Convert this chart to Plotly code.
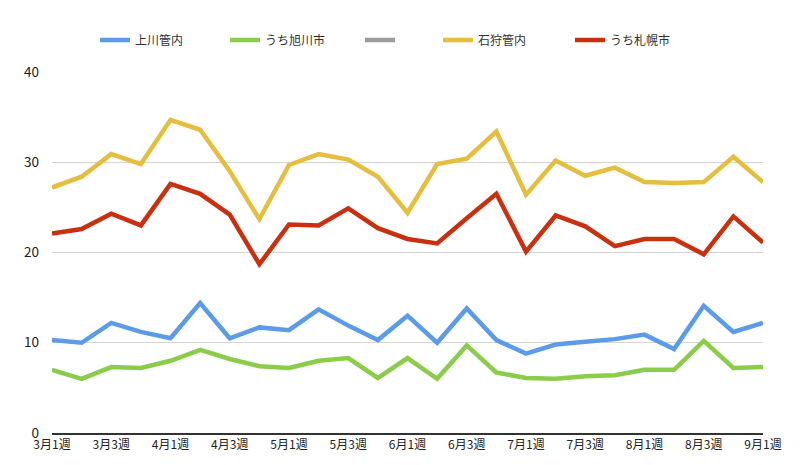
import plotly.graph_objects as go

## weekly categories, 3月1週 .. 9月1週
weeks = [f"{m}月{w}週" for m in range(3, 9) for w in range(1, 5)] + ["9月1週"]
tick_labels = weeks[::2]

kamikawa = [10.3, 10.0, 12.2, 11.2, 10.5, 14.4, 10.5, 11.7, 11.4, 13.7, 11.9, 10.3, 13.0,
            10.0, 13.8, 10.3, 8.8, 9.8, 10.1, 10.4, 10.9, 9.3, 14.1, 11.2, 12.2]
asahikawa = [7.0, 6.0, 7.3, 7.2, 8.0, 9.2, 8.2, 7.4, 7.2, 8.0, 8.3, 6.1, 8.3,
             6.0, 9.7, 6.7, 6.1, 6.0, 6.3, 6.4, 7.0, 7.0, 10.2, 7.2, 7.3]
ishikari = [27.2, 28.4, 30.9, 29.8, 34.7, 33.6, 29.0, 23.7, 29.7, 30.9, 30.3, 28.4, 24.4,
            29.8, 30.4, 33.4, 26.4, 30.2, 28.5, 29.4, 27.8, 27.7, 27.8, 30.6, 27.8]
sapporo = [22.1, 22.6, 24.3, 23.0, 27.6, 26.5, 24.2, 18.7, 23.1, 23.0, 24.9, 22.7, 21.5,
           21.0, 23.8, 26.5, 20.1, 24.1, 22.9, 20.7, 21.5, 21.5, 19.8, 24.0, 21.1]

## the page body adds an 8px margin, so everything is shifted back by that
off = 8

## name, values, colour, legend text start (px)
series = [
    ("上川管内", kamikawa, "#5b9be8", 135),
    ("うち旭川市", asahikawa, "#8bcd4b", 265),
    (" ", [None] * len(weeks), "#9a9a9a", 400),
    ("石狩管内", ishikari, "#e5bd3f", 478),
    ("うち札幌市", sapporo, "#c9300f", 610),
]

fig = go.Figure()
layout_legends = {}
for i, (name, vals, color, tx) in enumerate(series):
    lg = "legend" if i == 0 else f"legend{i+1}"
    fig.add_trace(go.Scatter(x=weeks, y=vals, name=name, mode="lines",
                             line=dict(color=color, width=4.5),
                             legend=lg, showlegend=True))
    layout_legends[lg] = dict(orientation="h", xref="container", yref="container",
                              x=(tx - 40 - off) / 800, y=1 - (40 - off) / 465,
                              xanchor="left", yanchor="middle",
                              bgcolor="rgba(0,0,0,0)",
                              font=dict(size=12, color="#333"))

fig.update_layout(
    width=800, height=465,
    margin=dict(l=52 - off, r=37 + off, t=72 - off, b=32 + off, autoexpand=False),
    paper_bgcolor="white", plot_bgcolor="white",
    font=dict(family="Noto Sans CJK JP, Noto Sans, sans-serif", color="#222"),
    xaxis=dict(type="category", range=[0, len(weeks) - 1], automargin=False,
               tickmode="array", tickvals=tick_labels, ticktext=tick_labels,
               showgrid=False, showline=True, linecolor="#333", linewidth=1.5,
               tickfont=dict(size=12, color="#222"), ticks=""),
    yaxis=dict(range=[0, 40], dtick=10, showgrid=True, gridcolor="#d6d6d6",
               gridwidth=1, zeroline=False, showline=False, automargin=False,
               tickfont=dict(size=13.5, color="#222"), ticklabelstandoff=12),
    **layout_legends,
)

fig.write_html("out.html")
